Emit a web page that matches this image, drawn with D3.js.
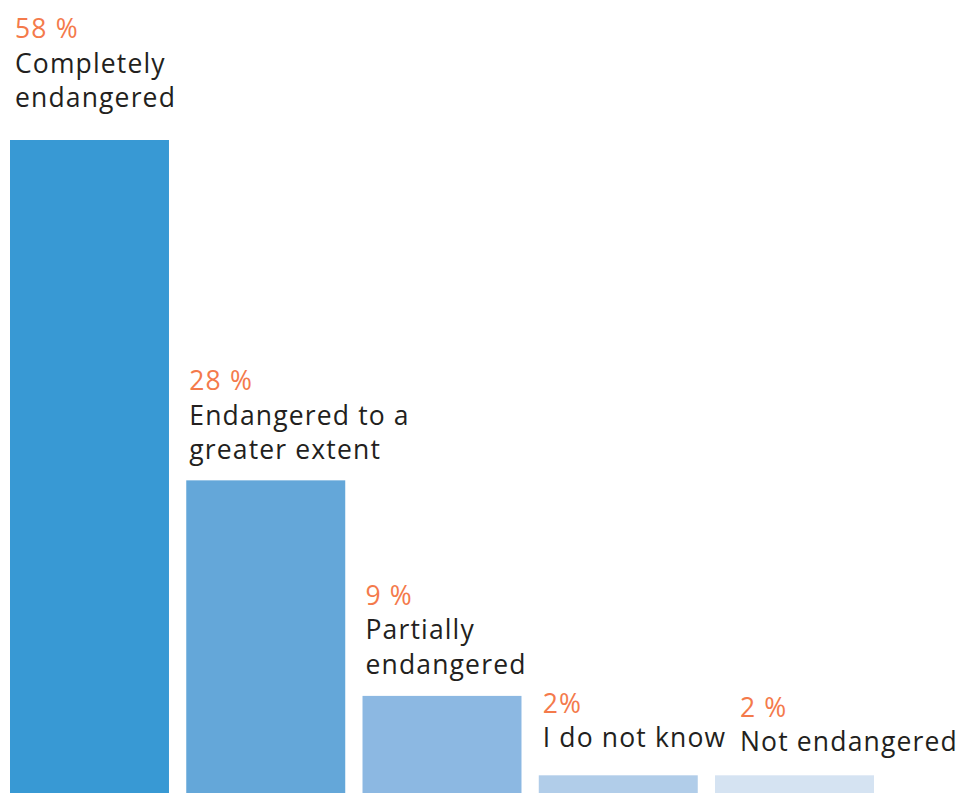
<!DOCTYPE html>
<html>
<head>
<meta charset="utf-8">
<script src="https://cdn.jsdelivr.net/npm/d3@7"></script>
<style>
  html, body { margin: 0; padding: 0; background: #ffffff; }
  svg { display: block; }
  text { font-family: "Open Sans", "Noto Sans", sans-serif; font-weight: 400; letter-spacing: 1.15px; }
</style>
</head>
<body>
<svg id="chart" width="959" height="793"></svg>
<script>
// Survey answers and their shares (%)
const categories = [
  "Completely endangered",
  "Endangered to a greater extent",
  "Partially endangered",
  "I do not know",
  "Not endangered"
];
const values = [58, 28, 9, 2, 2];
const valueLabels = ["58 %", "28 %", "9 %", "2%", "2 %"];
// Wrapped category text, one entry per line
const labelLines = [
  ["Completely", "endangered"],
  ["Endangered to a", "greater extent"],
  ["Partially", "endangered"],
  ["I do not know"],
  ["Not endangered"]
];

// Styling
const barColors = ["#3899d4", "#64a7d9", "#8cb8e2", "#b1cde9", "#d5e3f2"];
const valueColor = "#f47a4b";
const textColor = "#231f20";
const fontSize = 26.5;
const lineHeight = 34.5;
// per-bar label placement (gap above bar top, horizontal inset)
const labelGap = [33, 21, 22, 28, 24];
const labelInset = [5, 3, 3, 4, 25];

const svg = d3.select("#chart");

const x = d3.scaleBand()
  .domain(categories)
  .range([10, 874])
  .paddingInner(0.098)
  .paddingOuter(0);

const y = d3.scaleLinear()
  .domain([0, 58])
  .range([798, 140]);

svg.append("g")
  .selectAll("rect")
  .data(categories)
  .join("rect")
  .attr("x", d => x(d))
  .attr("y", (d, i) => y(values[i]))
  .attr("width", x.bandwidth())
  .attr("height", (d, i) => y(0) - y(values[i]))
  .attr("fill", (d, i) => barColors[i]);

const labels = svg.append("g")
  .selectAll("g")
  .data(categories)
  .join("g")
  .attr("transform", (d, i) => {
    const lastBaseline = y(values[i]) - labelGap[i];
    return `translate(${x(d) + labelInset[i]},${lastBaseline})`;
  });

labels.each(function (d, i) {
  const g = d3.select(this);
  const lines = labelLines[i];
  const n = lines.length;
  g.append("text")
    .attr("x", 0)
    .attr("y", -n * lineHeight)
    .attr("fill", valueColor)
    .attr("font-size", fontSize)
    .text(valueLabels[i]);
  lines.forEach((line, j) => {
    g.append("text")
      .attr("x", 0)
      .attr("y", -(n - 1 - j) * lineHeight)
      .attr("fill", textColor)
      .attr("font-size", fontSize)
      .text(line);
  });
});
</script>
</body>
</html>
